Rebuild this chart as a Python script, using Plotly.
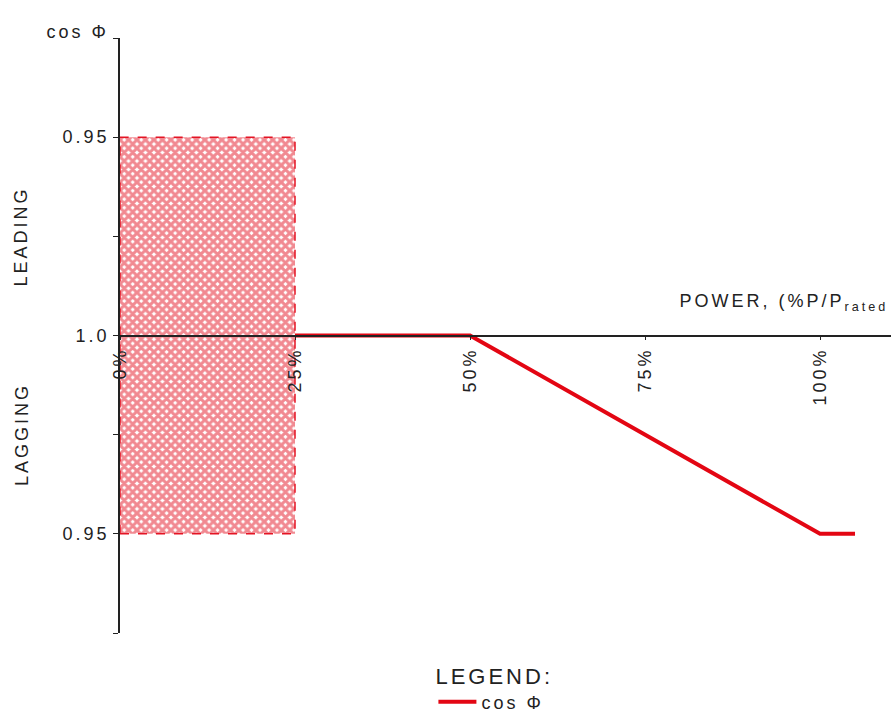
import plotly.graph_objects as go

# ---- data ----
power_pct = [25, 50, 100, 105]          # % of rated power
cos_phi_pos = [0, 0, -2, -2]            # 0 = 1.0, +2 = 0.95 leading, -2 = 0.95 lagging
zone_x = [0, 25, 25, 0, 0]              # operating band below 25 %
zone_y = [-2, -2, 2, 2, -2]
x_tick_vals = [0, 25, 50, 75, 100]
x_tick_text = ["0%", "25%", "50%", "75%", "100%"]
y_tick_vals = [-3, -2, -1, 0, 1, 2, 3]
y_tick_text = ["", "0.95", "", "1.0", "", "0.95", ""]

RED = "#e30613"
INK = "#222222"
FONT = "Liberation Sans, Arial, sans-serif"

fig = go.Figure()
fig.add_trace(go.Scatter(
    x=zone_x, y=zone_y, mode="lines", fill="toself",
    fillcolor="rgba(0,0,0,0)",
    fillpattern=dict(shape="x", size=6, solidity=0.76, fgcolor="#e41424", bgcolor="white"),
    line=dict(color="#e41424", width=1.5, dash="dash"),
    showlegend=False, hoverinfo="skip"))
fig.add_trace(go.Scatter(
    x=power_pct, y=cos_phi_pos, mode="lines", name="cos Φ",
    line=dict(color=RED, width=4)))

fig.update_layout(
    width=891, height=711,
    margin=dict(l=120, r=0, t=38, b=78, autoexpand=False),
    paper_bgcolor="white", plot_bgcolor="white",
    font=dict(family=FONT, size=18, color=INK),
    xaxis=dict(range=[0, 110.14], anchor="free", position=0.5, automargin=False,
               showline=True, linecolor=INK, linewidth=1.5,
               ticks="outside", ticklen=4, tickcolor=INK,
               tickvals=x_tick_vals, ticktext=x_tick_text, tickangle=-90,
               showgrid=False, zeroline=False, tickfont=dict(size=18)),
    yaxis=dict(range=[-3, 3], showline=True, linecolor=INK, linewidth=1.5, automargin=False,
               ticks="outside", ticklen=5, tickcolor=INK,
               tickvals=y_tick_vals, ticktext=y_tick_text,
               showgrid=False, zeroline=False, tickfont=dict(size=18)),
    legend=dict(title=dict(text="LEGEND:", side="top"), x=0.4065, xanchor="left",
                y=-0.037, yanchor="top", bgcolor="rgba(0,0,0,0)", font=dict(size=18),
                itemwidth=38),
    annotations=[
        dict(text="cos Φ", xref="paper", yref="paper", x=-0.0195, y=1.03, xshift=-2,
             xanchor="right", showarrow=False, font=dict(size=18)),
        dict(text="LEADING", xref="paper", yref="y", x=-0.143, y=1, textangle=-90,
             showarrow=False, font=dict(size=18)),
        dict(text="LAGGING", xref="paper", yref="y", x=-0.143, y=-1, textangle=-90,
             showarrow=False, font=dict(size=18)),
        dict(text="POWER, (%P/P<sub>rated</sub> )", xref="paper", yref="y",
             x=0.7276, y=0.33, xshift=25, xanchor="left", showarrow=False,
             font=dict(size=18)),
    ],
)

post = """
document.body.style.margin = '0';
var gd = document.getElementById('{plot_id}');
gd.querySelectorAll('text').forEach(function(t){ t.style.letterSpacing = '3px'; });
gd.querySelectorAll('.legend [clip-path], .legend').forEach(function(e){ e.removeAttribute('clip-path'); });
var mb = gd.querySelector('.modebar-container'); if (mb) { mb.style.display = 'none'; }
"""
fig.write_html("out.html", post_script=post, config={"displayModeBar": False})
